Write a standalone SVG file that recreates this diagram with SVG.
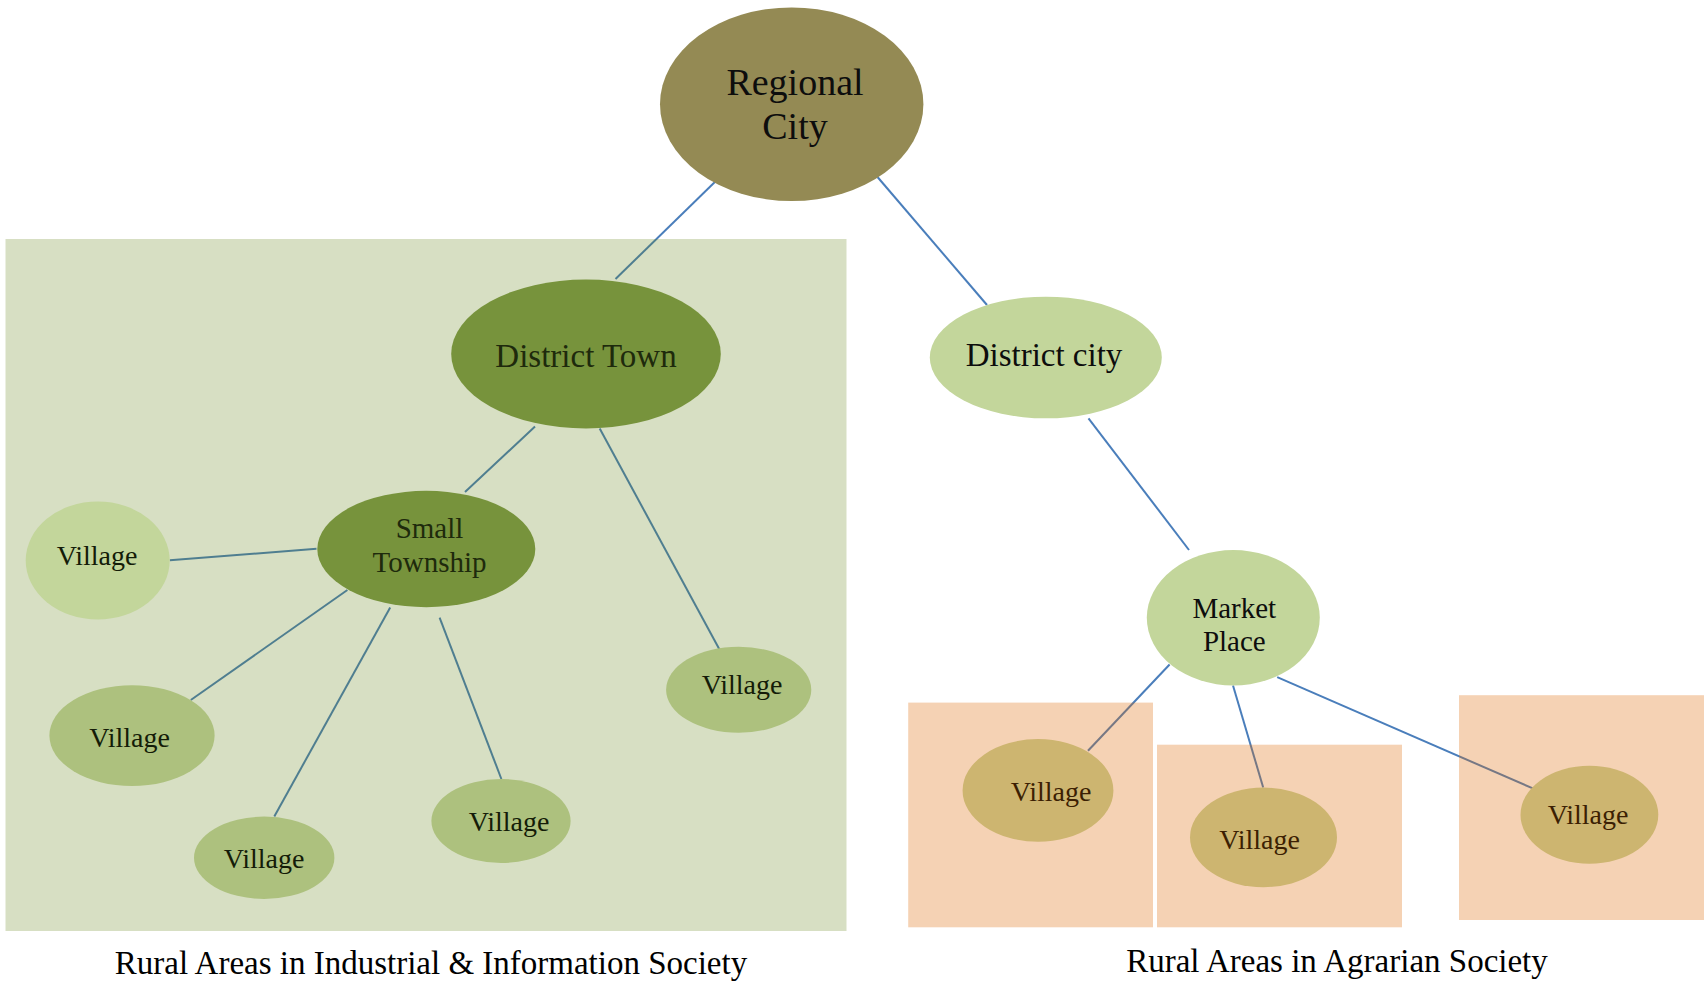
<svg xmlns="http://www.w3.org/2000/svg" width="1705" height="982" viewBox="0 0 1705 982">
<style>
text { font-family: "Liberation Serif", "Times New Roman", serif; text-anchor: middle; }
.conn { stroke: #4a7ebb; stroke-width: 2; fill: none; }
.t38 { font-size: 38px; fill: #0d0d0d; }
.t33 { font-size: 33px; fill: #0d0d0d; }
.dark { fill: #1e2a0c; }
.vg { font-size: 28px; fill: #141c08; }
.vo { font-size: 28px; fill: #3c1f03; }
.cap { font-size: 33px; fill: #000; }
.olive { fill: #77933c; }
.light { fill: #c3d69b; }
.mid { fill: #adc17e; }
.tan { fill: #cdb570; }
</style>
<rect x="0" y="0" width="1705" height="982" fill="#ffffff"/>

<g id="connectors">
  <line class="conn" x1="720" y1="177" x2="615.5" y2="279"/>
  <line class="conn" x1="877.5" y1="177" x2="987" y2="305"/>
  <line class="conn" x1="535" y1="426.5" x2="465" y2="492"/>
  <line class="conn" x1="599.7" y1="428.5" x2="720.3" y2="651"/>
  <line class="conn" x1="316.5" y1="548.7" x2="169.8" y2="560.3"/>
  <line class="conn" x1="347.4" y1="590" x2="190.8" y2="700"/>
  <line class="conn" x1="390.2" y1="607.5" x2="274.3" y2="816.5"/>
  <line class="conn" x1="439.6" y1="617.6" x2="501.4" y2="779"/>
  <line class="conn" x1="1088.5" y1="418.3" x2="1189" y2="550"/>
  <line class="conn" x1="1169.6" y1="664.5" x2="1088" y2="750.7"/>
  <line class="conn" x1="1233" y1="685.5" x2="1263.2" y2="787.5"/>
  <line class="conn" x1="1277.2" y1="677.2" x2="1537" y2="790.2"/>
</g>

<g id="regions">
  <rect id="industrial-area" x="5.5" y="239" width="841" height="692" fill="#5f7f0f" fill-opacity="0.25"/>
  <rect id="agrarian-area-1" x="908.2" y="702.6" width="244.8" height="224.7" fill="#de6905" fill-opacity="0.3"/>
  <rect id="agrarian-area-2" x="1157" y="744.7" width="245" height="182.6" fill="#de6905" fill-opacity="0.3"/>
  <rect id="agrarian-area-3" x="1459" y="695.2" width="245" height="224.8" fill="#de6905" fill-opacity="0.3"/>
</g>

<g id="regional-city">
  <ellipse cx="791.7" cy="104.2" rx="131.7" ry="96.8" fill="#948a54"/>
  <text class="t38" x="795" y="95">Regional</text>
  <text class="t38" x="795" y="139">City</text>
</g>

<g id="district-town">
  <ellipse class="olive" cx="586" cy="354" rx="134.8" ry="74.5"/>
  <text class="t33 dark" x="586" y="367">District Town</text>
</g>

<g id="district-city">
  <ellipse class="light" cx="1045.8" cy="357.5" rx="116" ry="60.8"/>
  <text class="t33" x="1044" y="366">District city</text>
</g>

<g id="small-township">
  <ellipse class="olive" cx="426.3" cy="549" rx="109" ry="58.2"/>
  <text class="dark" style="font-size:29px" x="429.5" y="538">Small</text>
  <text class="dark" style="font-size:29px" x="429.5" y="572">Township</text>
</g>

<g id="village-1">
  <ellipse class="light" cx="97.7" cy="560.5" rx="72" ry="59"/>
  <text class="vg" x="97" y="565">Village</text>
</g>

<g id="village-2">
  <ellipse class="mid" cx="132" cy="735.6" rx="82.6" ry="50.4"/>
  <text class="vg" x="129.5" y="747">Village</text>
</g>

<g id="village-3">
  <ellipse class="mid" cx="264.2" cy="857.8" rx="70.2" ry="41.2"/>
  <text class="vg" x="264" y="868">Village</text>
</g>

<g id="village-4">
  <ellipse class="mid" cx="501" cy="821" rx="69.6" ry="42"/>
  <text class="vg" x="509" y="830.5">Village</text>
</g>

<g id="village-5">
  <ellipse class="mid" cx="738.7" cy="689.7" rx="72.6" ry="43"/>
  <text class="vg" x="742" y="693.5">Village</text>
</g>

<g id="market-place">
  <ellipse class="light" cx="1233.3" cy="617.8" rx="86.5" ry="67.7"/>
  <text style="font-size:29px" fill="#0d0d0d" x="1234.3" y="617.5">Market</text>
  <text style="font-size:29px" fill="#0d0d0d" x="1234.3" y="651">Place</text>
</g>

<g id="village-a">
  <ellipse class="tan" cx="1038" cy="790.4" rx="75.4" ry="51.3"/>
  <text class="vo" x="1051" y="801">Village</text>
</g>

<g id="village-b">
  <ellipse class="tan" cx="1263.5" cy="837.4" rx="73.5" ry="49.8"/>
  <text class="vo" x="1259.5" y="849.4">Village</text>
</g>

<g id="village-c">
  <ellipse class="tan" cx="1589.4" cy="814.8" rx="68.9" ry="49"/>
  <text class="vo" x="1588" y="824.3">Village</text>
</g>

<text class="cap" x="431" y="974">Rural Areas in Industrial &amp; Information Society</text>
<text class="cap" x="1337" y="972">Rural Areas in Agrarian Society</text>
</svg>
